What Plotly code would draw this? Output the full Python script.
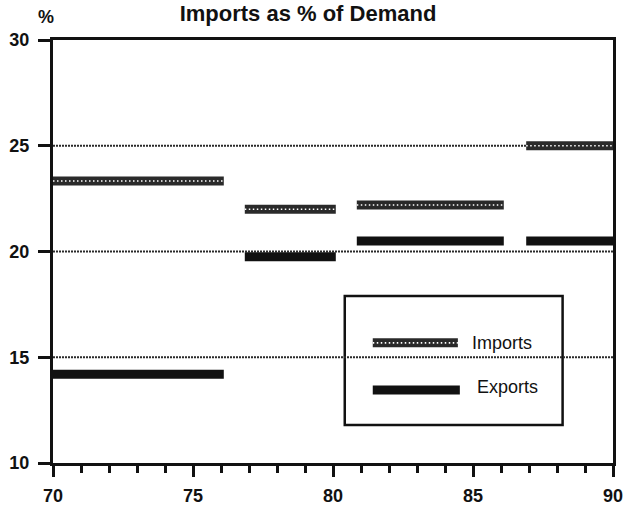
import plotly.graph_objects as go

# Period segments (year ranges on the x axis)
seg_start = [70, 76.85, 80.85, 86.9]
seg_end = [76.1, 80.1, 86.1, 90]

imports_pct = [23.33, 22.0, 22.2, 25.0]
exports_pct = [14.2, 19.75, 20.5, 20.5]

grid_levels = [15, 20, 25]
x_ticks = [70, 75, 80, 85, 90]
y_ticks = [10, 15, 20, 25, 30]

title_text = "Imports as % of Demand"
series_names = ["Imports", "Exports"]


def seg_xy(starts, ends, vals):
    xs, ys = [], []
    for s, e, v in zip(starts, ends, vals):
        xs += [s, e, None]
        ys += [v, v, None]
    return xs, ys


REG = "Liberation Sans, Arial, Helvetica"

fig = go.Figure()

# wavy grid lines
gx, gy = seg_xy([70] * len(grid_levels), [90] * len(grid_levels), grid_levels)
fig.add_trace(go.Scatter(x=gx, y=gy, mode="lines", showlegend=False, hoverinfo="skip",
                         line=dict(color="#2a2a2a", width=2, dash="2px,1px")))

# Imports: hatched thick band (dark base + white dotted overlay)
ix, iy = seg_xy(seg_start, seg_end, imports_pct)
fig.add_trace(go.Scatter(x=ix, y=iy, mode="lines", name=series_names[0], showlegend=False,
                         line=dict(color="#2a2a2a", width=9)))
fig.add_trace(go.Scatter(x=ix, y=iy, mode="lines", showlegend=False, hoverinfo="skip",
                         line=dict(color="#ffffff", width=1.6, dash="1.5px,2.5px")))

# Exports: solid black band
ex, ey = seg_xy(seg_start, seg_end, exports_pct)
fig.add_trace(go.Scatter(x=ex, y=ey, mode="lines", name=series_names[1], showlegend=False,
                         line=dict(color="#111111", width=9)))

# Custom legend box
shapes = [
    dict(type="rect", xref="paper", yref="paper", x0=0.521, x1=0.910, y0=0.0898, y1=0.395,
         line=dict(color="#111111", width=2.5), fillcolor="white", layer="below"),
    dict(type="line", xref="paper", yref="paper", x0=0.571, x1=0.723, y0=0.284, y1=0.284,
         line=dict(color="#2a2a2a", width=9)),
    dict(type="line", xref="paper", yref="paper", x0=0.571, x1=0.723, y0=0.284, y1=0.284,
         line=dict(color="#ffffff", width=1.6, dash="1.5px,2.5px")),
    dict(type="line", xref="paper", yref="paper", x0=0.571, x1=0.7265, y0=0.1726, y1=0.1726,
         line=dict(color="#111111", width=9)),
]

annotations = [
    dict(text=series_names[0], xref="paper", yref="paper", x=0.745, y=0.284,
         xanchor="left", yanchor="middle", showarrow=False,
         font=dict(family=REG, size=18, color="#111111")),
    dict(text=series_names[1], xref="paper", yref="paper", x=0.754, y=0.180,
         xanchor="left", yanchor="middle", showarrow=False,
         font=dict(family=REG, size=18, color="#111111")),
    dict(text="%", xref="paper", yref="paper", x=-0.012, y=1.054,
         xanchor="center", yanchor="middle", showarrow=False,
         font=dict(family=REG, size=18, color="#111111", weight="bold")),
]

fig.update_layout(
    width=626, height=508,
    margin=dict(l=53, r=13, t=40, b=45, autoexpand=False),
    paper_bgcolor="white", plot_bgcolor="white",
    title=dict(text=title_text, x=0.492, xref="container", xanchor="center",
               y=1 - 6 / 508, yref="container", yanchor="top",
               font=dict(family=REG, size=22, color="#111111", weight="bold")),
    shapes=shapes, annotations=annotations,
    showlegend=False,
)

fig.update_xaxes(range=[70, 90], tickvals=x_ticks, showgrid=False, zeroline=False, automargin=False,
                 showline=True, linecolor="#111111", linewidth=3, mirror=True,
                 ticks="outside", ticklen=11, tickwidth=3, tickcolor="#111111",
                 ticklabelstandoff=3,
                 minor=dict(dtick=1, ticks="outside", ticklen=7, tickwidth=2.5, tickcolor="#111111", showgrid=False),
                 tickfont=dict(family=REG, size=18, color="#111111", weight="bold"))
fig.update_yaxes(range=[10, 30], tickvals=y_ticks, showgrid=False, zeroline=False, automargin=False,
                 showline=True, linecolor="#111111", linewidth=3, mirror=True,
                 ticks="outside", ticklen=12, tickwidth=2.5, tickcolor="#111111",
                 ticklabelstandoff=5,
                 tickfont=dict(family=REG, size=18, color="#111111", weight="bold"))

fig.write_html("out.html", config={"displayModeBar": False},
               post_script="document.body.style.margin='0';document.body.style.padding='0';")
